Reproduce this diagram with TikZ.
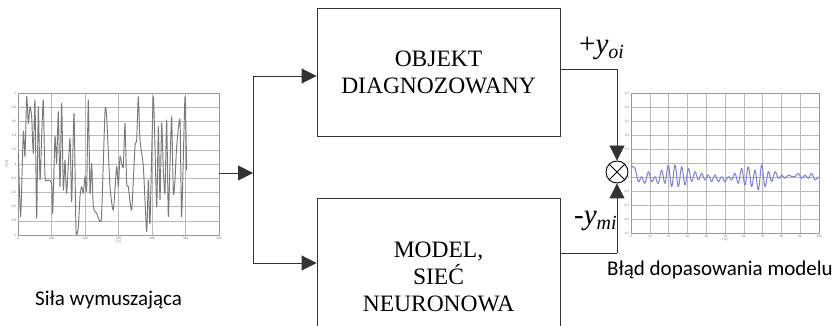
\documentclass[tikz,border=0pt]{standalone}
\usepackage{fontspec}
\setmainfont{Liberation Serif}
\newfontfamily\captionfont{Carlito}
\usetikzlibrary{arrows.meta}
\definecolor{errblue}{RGB}{128,128,214}

\begin{document}
\begin{tikzpicture}[x=1pt,y=-1pt,
  block/.style={draw=black!80, line width=0.9pt, minimum width=243pt, inner sep=0pt,
    align=center, font=\fontsize{23.5}{27}\selectfont},
  wire/.style={draw=black!80, line width=0.9pt},
  feed/.style={wire, -{Triangle[length=15pt,width=15pt]}},
  caption/.style={font=\captionfont\fontsize{21}{24}\selectfont, inner sep=0pt, anchor=base west},
  siglabel/.style={font=\fontsize{29}{32}\selectfont, inner sep=0pt, anchor=base west},
  frame/.style={draw=black!40, line width=0.6pt, inner sep=0pt},
  gridline/.style={draw=black!28, line width=0.45pt},
  ticklbl/.style={font=\fontsize{3.5}{4}\selectfont, text=black!55, inner sep=0.5pt},
  forcesig/.style={draw=black!52, line width=0.95pt, line join=round},
  errsig/.style={draw=errblue, line width=1pt, line join=round}
]
\clip (0,0) rectangle (836,326);
\fill[white] (0,0) rectangle (836,326);

% ---- excitation force chart ----
\foreach \i in {0,...,6} \draw[gridline] ({18+\i*33.5},93) -- ({18+\i*33.5},235);
\foreach \j in {0,...,10} \draw[gridline] (18,{93+\j*14.2}) -- (219,{93+\j*14.2});
\node[frame, minimum width=201pt, minimum height=142pt] (force) at (118.5,164) {};
\foreach \v [count=\j from 0] in {1,0.8,0.6,0.4,0.2,0,-0.2,-0.4,-0.6,-0.8,-1}
  \node[ticklbl, anchor=east] at (17,{93+\j*14.2}) {\v};
\foreach \v [count=\i from 0] in {0,100,200,300,400,500,600}
  \node[ticklbl, anchor=north] at ({18+\i*33.5},236) {\v};
\node[ticklbl, rotate=90] at (7,164) {F [N]};
\node[ticklbl] at (118.5,242) {t [s]};
\begin{scope}[shift={(0,80)}, scale=0.33333]
  \draw[forcesig] plot[smooth, tension=0.35] coordinates {
    (55,220)(62,410)(70,155)(75,230)(80,50)(85,130)(90,80)(95,110)(100,220)(105,60)
    (110,415)(115,80)(120,300)(125,170)(130,60)(135,290)(145,300)(155,310)(158,400)
    (165,170)(170,250)(175,95)(180,320)(185,70)(190,330)(195,240)(200,340)(210,175)
    (215,365)(222,100)(228,450)(235,440)(240,350)(245,320)(250,340)(255,290)(260,330)
    (265,60)(270,340)(275,250)(280,380)(290,400)(300,425)(305,400)(315,95)(320,110)
    (330,320)(340,390)(350,260)(355,320)(360,230)(365,250)(370,260)(375,130)(380,310)
    (385,320)(395,390)(405,200)(410,180)(415,50)(420,180)(430,260)(440,455)(445,300)
    (450,430)(460,50)(470,380)(475,140)(480,360)(485,130)(490,270)(495,340)(500,120)
    (505,410)(510,250)(515,110)(520,340)(525,300)(530,200)(540,120)(545,410)(555,50)
    (560,270)};
\end{scope}

% ---- fitting error chart ----
\foreach \i in {0,...,10} \draw[gridline] ({631+\i*18.8},93) -- ({631+\i*18.8},233);
\foreach \j in {0,...,10} \draw[gridline] (631,{93+\j*14}) -- (819,{93+\j*14});
\node[frame, minimum width=188pt, minimum height=140pt] (err) at (725,163) {};
\foreach \v [count=\j from 0] in {0.5,0.4,0.3,0.2,0.1,0,-0.1,-0.2,-0.3,-0.4,-0.5}
  \node[ticklbl, anchor=east] at (630,{93+\j*14}) {\v};
\foreach \v [count=\i from 0] in {0,10,20,30,40,50,60,70,80,90,100}
  \node[ticklbl, anchor=north] at ({631+\i*18.8},234) {\v};
\node[ticklbl] at (725,240) {t [s]};
\begin{scope}[shift={(560,30)}, scale=0.33333]
  \draw[errsig] plot[smooth, tension=0.6] coordinates {
    (215,410)(225,415)(235,455)(245,440)(255,460)(265,425)(275,455)(285,440)(295,460)
    (305,420)(315,460)(325,405)(335,470)(345,405)(355,470)(365,410)(375,465)(385,415)
    (395,455)(405,425)(415,450)(425,430)(435,450)(445,435)(455,455)(465,435)(475,455)
    (485,440)(495,455)(505,440)(515,450)(525,430)(535,460)(545,415)(555,465)(565,410)
    (575,470)(585,420)(595,480)(605,405)(615,470)(625,425)(635,455)(645,425)(655,445)
    (665,435)(675,445)(685,435)(695,440)(705,440)(715,430)(725,445)(735,435)(745,445)
    (755,430)(765,450)(775,440)};
\end{scope}

% ---- blocks ----
\node[block, minimum height=128pt] (obj) at (438.5,72) {OBJEKT\\DIAGNOZOWANY};
\node[block, minimum height=158pt] (model) at (438.5,277) {MODEL,\\SIEĆ\\NEURONOWA};

% ---- summing junction ----
\node[draw=black, line width=0.9pt, circle, minimum size=22pt, inner sep=0pt] (sum) at (617,172) {};
\draw[line width=0.8pt] (sum.north west) -- (sum.south east) (sum.north east) -- (sum.south west);

% ---- connectors ----
\coordinate (split) at (253,173);
\coordinate (splitTop) at (253,76);
\coordinate (splitBot) at (253,263);
\coordinate (yo) at (617,69);
\coordinate (ym) at (617,253);
\draw[feed] (force.east |- split) -- (split);
\draw[wire] (splitTop) -- (splitBot);
\draw[feed] (splitTop) -- (obj.west |- splitTop);
\draw[feed] (splitBot) -- (model.west |- splitBot);
\draw[wire] (obj.east |- yo) -- (yo);
\draw[feed] (yo) -- (sum.north);
\draw[wire] (model.east |- ym) -- (ym);
\draw[feed] (ym) -- (sum.south);

% ---- labels ----
\node[siglabel] (yoi) at (579,54) {+\textit{y}\raisebox{-5pt}{\fontsize{20}{20}\selectfont\textit{oi}}};
\node[siglabel] (ymi) at (574,225) {-\textit{y}\raisebox{-5pt}{\fontsize{20}{20}\selectfont\textit{mi}}};
\node[caption] (forcecap) at (35,305) {Siła wymuszająca};
\node[caption] (errcap) at (607,275) {Błąd dopasowania modelu};
\end{tikzpicture}
\end{document}
